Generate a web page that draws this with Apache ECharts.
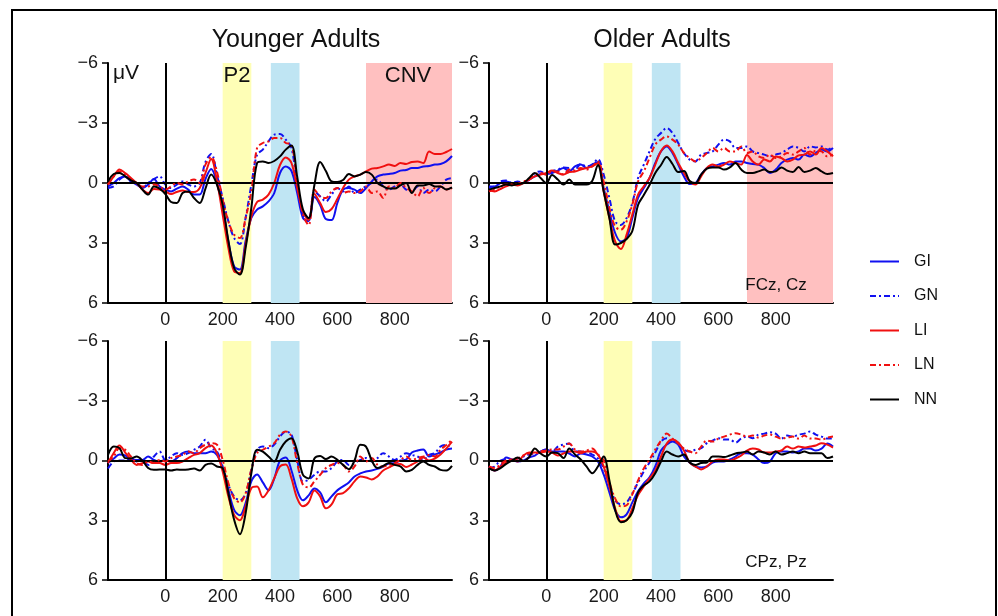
<!DOCTYPE html>
<html><head><meta charset="utf-8">
<script src="https://cdn.jsdelivr.net/npm/echarts@6/dist/echarts.min.js"></script>
<style>html,body{margin:0;padding:0;background:#fff}#c{width:998px;height:616px}</style>
</head><body><div id="c"></div>
<script>
// time points (ms)
const times = [-200,-180,-160,-140,-120,-100,-80,-60,-40,-20,0,20,40,60,80,100,120,140,160,180,200,220,240,260,280,300,320,340,360,380,400,420,440,460,480,500,520,540,560,580,600,620,640,660,680,700,720,740,760,780,800,820,840,860,880,900,920,940,960,980,1000];
const conditions = ['GI','GN','LI','LN','NN'];
const panelTitles = ['Younger Adults','Older Adults'];
const siteLabels = ['FCz, Cz','CPz, Pz'];
const xTicks = [0,200,400,600,800];
const yTicks = [-6,-3,0,3,6];

// Younger adults, FCz/Cz (µV)
const yaFC_GI = [0.17,0,-0.25,-0.33,-0.08,0.08,0.25,0.08,-0.2,0.17, 0.33,0.42,0.28,0.17,0.33,0.58,0.58,-0.2,-0.7,0.0, 1.25,2.92,4.17,4.33,2.9,1.75,1.33,1.17,0.92,0.5, -0.5,-0.83,-0.6,0.5,1.75,1.9,0.7,1.1,1.8,1.85, 1.0,0.33,0.25,0.33,0.5,0.25,-0.08,-0.33,-0.42,-0.45, -0.5,-0.62,-0.65,-0.75,-0.75,-0.83,-0.85,-0.92,-0.95,-1.08, -1.35];
const yaFC_GN = [0.25,0.17,-0.17,-0.33,-0.08,0,0.25,0,-0.2,-0.33, 0.08,0.25,0.08,-0.08,0.08,0.17,0,-1.05,-1.45,-0.4, 0.75,1.92,2.75,3.05,1.75,0.08,-1.42,-1.67,-2.08,-2.42, -2.45,-2.17,-1.75,0.1,1.58,1.8,0.42,0.67,0.92,0.58, 0.25,0.42,0.17,0.5,0.33,0.17,0,-0.17,0.17,0.33, 0.17,0.08,0.33,0.42,0.17,0.5,0.33,0.42,0.17,-0.17, -0.25];
const yaFC_LI = [0.08,-0.33,-0.68,-0.5,-0.25,0,0.33,0.5,0.3,0.33, 0.42,0.55,0.45,0.38,0.45,0.45,0.25,-0.5,-1.2,-0.1, 1.58,3.25,4.42,4.5,3.08,1.67,0.95,0.83,0.58,0.0, -0.9,-1.28,-1.0,0.25,1.42,1.85,0.55,1.0,1.45,1.3, 0.8,0.25,-0.17,-0.33,-0.42,-0.58,-0.72,-0.75,-0.83,-0.92, -0.85,-1.0,-0.95,-1.05,-1.08,-1.0,-1.58,-1.45,-1.45,-1.55, -1.7];
const yaFC_LN = [0.08,-0.33,-0.58,-0.42,-0.17,0,0.17,0.17,0.08,0.17, 0.33,0.17,0,0.08,-0.08,-0.17,0,-0.92,-1.3,-0.58, 0.83,1.92,2.58,2.75,1.75,0.42,-1.75,-2.0,-2.08,-2.25, -2.25,-2.0,-1.92,0,1.58,2.1,0.33,0.67,0.75,0.42, 0.25,0.5,0.42,0.5,0.42,0.17,0.5,0.42,0.75,0.17, 0.25,0,0.25,0.42,0.67,0.25,0.5,0.25,0.17,0.33, 0.25];
const yaFC_NN = [-0.08,-0.45,-0.5,-0.33,-0.13,0,0.33,0.58,0.17,0.28, 0.55,0.95,1.0,0.5,0.42,0.75,1.0,0.28,-0.42,0.08, 1.08,2.9,4.25,4.58,3.25,1.25,-1.0,-1.08,-1.0,-1.1, -1.33,-1.67,-1.88,-0.3,1.33,1.75,0.1,-1.05,-0.6,-0.08, -0.05,-0.15,-0.45,-0.33,-0.42,-0.55,-0.42,0,0.17,0.28, 0.28,0.12,0,0.5,0.12,0.12,0.05,0.17,0.17,0.33, 0.22];

// Older adults, FCz/Cz
const oaFC_GI = [0.17,0.17,0,-0.08,0,0,0,-0.17,-0.33,-0.45, -0.45,-0.5,-0.62,-0.75,-0.58,-0.83,-0.92,-0.75,-0.92,-1.05, 0.25,1.42,2.5,2.92,2.75,1.75,0.75,0.25,-0.25,-1.0, -1.58,-1.83,-1.5,-0.92,-0.33,0.05,0,-0.42,-0.75,-0.83, -0.92,-1.0,-0.92,-1.08,-1.08,-1.0,-0.95,-0.92,-0.75,-0.5, -0.67,-1.0,-1.17,-1.25,-1.17,-1.42,-1.33,-1.5,-1.67,-1.58, -1.75];
const oaFC_GN = [0.25,0.17,-0.08,-0.12,0,-0.08,0,-0.17,-0.5,-0.58, -0.42,-0.58,-0.67,-0.78,-0.75,-0.67,-0.95,-0.83,-0.92,-1.2, -0.42,0.75,1.92,2.1,1.75,1.0,-0.25,-0.92,-1.58,-2.2, -2.5,-2.75,-2.5,-2.0,-1.5,-1.17,-1.08,-1.42,-1.5,-1.58, -1.92,-2.17,-2.08,-1.75,-1.75,-1.83,-1.58,-1.5,-1.42,-1.33, -1.42,-1.5,-1.67,-1.83,-1.75,-1.58,-1.83,-1.78,-1.83,-1.67, -1.83];
const oaFC_LI = [0.33,0.42,0.3,0.17,0.08,0.12,0,-0.17,-0.33,-0.42, -0.5,-0.62,-0.5,-0.42,-0.55,-0.58,-0.67,-0.75,-0.83,-1.0, 0.42,1.75,2.92,3.3,2.58,1.58,0.58,0.17,-0.25,-0.92, -1.6,-1.88,-1.58,-1.0,-0.5,-0.08,0.08,-0.33,-0.75,-0.92, -0.83,-0.92,-1.08,-1.0,-0.92,-1.4,-1.08,-0.92,-1.17,-1.08, -1.33,-1.25,-1.08,-1.17,-1.38,-1.42,-1.58,-1.42,-1.75,-1.58, -1.33];
const oaFC_LN = [0.42,0.33,0.17,0.08,0.08,0.05,-0.08,-0.17,-0.42,-0.5, -0.42,-0.58,-0.58,-0.42,-0.67,-0.62,-0.75,-0.67,-0.83,-1.08, -0.08,1.25,2.17,2.33,1.92,1.08,-0.08,-0.58,-1.25,-1.92, -2.17,-2.33,-2.17,-1.92,-1.5,-1.25,-1.08,-1.25,-1.5,-1.75, -1.58,-1.75,-1.58,-1.58,-1.83,-1.5,-1.58,-1.33,-1.25,-1.42, -1.25,-1.33,-1.5,-1.42,-1.58,-1.75,-1.42,-1.62,-1.58,-1.33, -1.42];
const oaFC_NN = [0.33,0.25,0.17,0.08,0.12,0.05,0,-0.25,-0.5,-0.25, 0,-0.4,-0.17,0.08,-0.17,0.08,0.08,0.08,-0.1,-0.9, 0.42,1.75,3.08,3.0,2.8,2.4,1.1,0.6,0.1,-0.5, -0.9,-1.3,-0.95,-0.55,-0.6,-0.1,0.0,-0.42,-0.72,-0.78, -0.78,-0.67,-0.78,-1.0,-0.67,-0.5,-0.5,-0.58,-0.67,-0.55, -0.58,-0.78,-0.62,-0.55,-0.8,-0.55,-0.62,-0.75,-0.58,-0.45, -0.5];

// Younger adults, CPz/Pz
const yaCP_GI = [0.13,-0.1,-0.3,-0.25,-0.05,-0.03,-0.03,-0.2,-0.03,0.05, -0.03,0.05,-0.12,-0.37,-0.45,-0.37,-0.37,-0.37,-0.45,-0.28, 0.38,1.47,2.48,2.75,2.14,1.05,0.7,1.1,1.5,0.9, 0.0,-0.15,0.5,1.5,2.0,1.75,1.4,1.6,2.1,1.8, 1.5,1.3,1.1,0.8,0.65,0.55,0.5,0.42,0.3,0.15, 0.13,0.0,-0.05,-0.4,-0.5,-0.55,-0.2,-0.3,-0.4,-0.55, -0.6];
const yaCP_GN = [0.4,0.05,0,0,-0.12,0.05,0,0.22,-0.2,-0.45, -0.03,-0.2,-0.37,-0.28,-0.37,-0.54,-0.7,-1.04,-0.62,-0.45, 0.3,1.22,1.81,2.0,1.65,0.47,-0.54,-0.7,-0.62,-0.8, -1.2,-1.45,-1.3,-0.03,1.05,0.97,0.72,0.55,0.55,0.38, 0.05,-0.03,0.22,0.13,-0.03,-0.12,0.05,-0.12,-0.37,-0.2, -0.03,-0.2,-0.37,-0.28,-0.2,-0.03,-0.28,-0.37,-0.7,-0.78, -0.62];
const yaCP_LI = [0.13,-0.37,-0.75,-0.4,-0.05,0.22,0.13,0.05,0.13,0.13, 0.22,0.13,0.13,0.05,-0.12,-0.28,-0.37,-0.62,-0.75,-0.37, 0.55,1.81,2.73,3.0,2.31,1.39,1.31,1.85,1.5,0.89, 0.3,0.2,0.9,1.9,2.3,2.1,1.5,1.8,2.4,2.2, 1.7,1.64,1.4,1.05,0.8,0.85,0.95,0.8,0.5,0.35, 0.2,0.17,0.33,0.2,0.05,-0.15,0,-0.1,-0.3,-0.6, -0.95];
const yaCP_LN = [0.05,-0.2,-0.62,-0.54,-0.2,0.13,0.22,0.05,0.13,-0.03, 0.05,-0.12,-0.2,-0.28,-0.45,-0.37,-0.62,-0.79,-0.87,-0.8, -0.03,1.14,1.89,2.1,1.65,0.47,-0.37,-0.54,-0.7,-0.87, -1.29,-1.46,-1.2,0.13,1.22,1.35,1.05,0.72,0.38,0.22, 0.13,0.22,0.55,0.3,-0.2,0.05,-0.12,0.22,0.3,0.22, 0.13,-0.03,-0.2,-0.03,-0.12,-0.2,-0.28,-0.2,-0.54,-0.78, -1.04];
const yaCP_NN = [-0.28,-0.7,-0.62,-0.12,-0.1,-0.2,0,0.38,0.47,0.45, 0.45,0.5,0.45,0.47,0.45,0.4,0.5,0.22,0.15,0.3, 0.38,1.64,2.98,3.7,2.65,0.64,-0.54,-0.45,-0.2,0.05, -0.54,-0.95,-1.12,-0.45,0.72,0.9,-0.1,-0.23,-0.07,-0.2, -0.03,0.22,0.44,0,-0.79,-0.7,0,0.38,0.27,0.13, 0.22,0.3,0.55,0.47,0.22,0.05,0.22,0.3,0.47,0.5, 0.27];

// Older adults, CPz/Pz
const oaCP_GI = [0.3,0.5,0.3,-0.15,-0.05,0.05,0,-0.15,-0.25,-0.45, -0.55,-0.45,-0.45,-0.45,-0.35,-0.2,-0.35,-0.3,-0.2,0.05, 0.7,1.6,2.5,2.85,2.7,2.1,1.55,1.15,0.85,0.3, -0.5,-0.8,-0.95,-0.8,-0.2,0.1,0.3,0.35,0.3,0.1, 0.05,0.05,-0.05,-0.2,-0.37,-0.37,-0.3,-0.05,0.13,0.05, -0.37,-0.45,-0.45,-0.4,-0.45,-0.6,-0.6,-0.5,-0.6,-0.85, -0.7];
const oaCP_GN = [0.38,0.3,0,-0.05,-0.05,-0.1,-0.2,-0.3,-0.35,-0.45, -0.55,-0.45,-0.7,-0.8,-0.85,-0.45,-0.45,-0.4,-0.3,-0.1, 0.4,1.2,2.0,2.2,2.1,1.65,1.1,0.55,0.1,-0.4, -0.95,-1.12,-0.95,-0.87,-0.55,-0.45,-0.54,-0.62,-0.87,-1.0, -1.12,-1.05,-1.05,-0.9,-1.1,-1.2,-1.12,-1.3,-1.35,-1.42, -1.35,-1.1,-1.25,-1.2,-1.3,-1.35,-1.46,-1.3,-1.2,-1.1, -1.1];
const oaCP_LI = [0.3,0.5,0.3,0.1,-0.05,0.05,-0.25,-0.4,-0.4,-0.4, -0.45,-0.4,-0.25,-0.35,-0.45,-0.45,-0.37,-0.45,-0.45,-0.3, 0.3,1.3,2.4,3.05,3.0,2.4,1.73,1.3,0.9,0.5, -0.2,-0.85,-1.05,-0.9,-0.5,0.1,0.3,0.45,0.3,0.05, -0.05,-0.05,0,-0.1,-0.25,-0.5,-0.6,-0.55,-0.4,-0.4, -0.45,-0.5,-0.7,-0.6,-0.7,-0.65,-0.7,-0.75,-0.87,-0.8, -0.65];
const oaCP_LN = [0.3,0.38,0.2,0,-0.05,-0.1,-0.25,-0.35,-0.35,-0.45, -0.5,-0.55,-0.55,-0.7,-0.85,-0.55,-0.45,-0.5,-0.6,-0.3, 0.0,1.1,1.9,2.3,2.25,1.7,1.0,0.4,-0.05,-0.55, -1.0,-1.35,-1.1,-0.85,-0.6,-0.45,-0.37,-0.7,-1.0,-0.95, -1.1,-1.2,-1.3,-1.37,-1.3,-1.2,-1.25,-1.15,-1.25,-1.3, -1.2,-1.1,-1.15,-1.2,-1.1,-1.25,-1.1,-1.1,-1.05,-1.15, -1.2];
const oaCP_NN = [0.38,0.5,0.38,0.17,0,-0.15,0.03,-0.17,-0.6,-0.35, -0.2,-0.4,-0.37,-0.12,-0.6,-0.3,-0.05,0.3,0.64,0.3, -0.2,1.0,2.48,3.1,3.0,2.6,1.6,1.25,1.05,0.64, 0.05,-0.45,-0.3,-0.2,-0.3,0.1,0.22,0.13,0.1,-0.2, -0.2,-0.17,-0.25,-0.35,-0.4,-0.45,-0.3,-0.45,-0.4,-0.3, -0.45,-0.3,-0.37,-0.45,-0.37,-0.45,-0.37,-0.37,-0.37,-0.12, -0.2];

// shaded windows (ms)
const p2Window = [200,300];
const blueWindow = [368,468];
const cnvWindow = [700,1000];

const panels = [
  {grid:{left:108,top:63,width:344,height:240}, data:[yaFC_GI,yaFC_GN,yaFC_LI,yaFC_LN,yaFC_NN], cnv:true},
  {grid:{left:489,top:63,width:344,height:240}, data:[oaFC_GI,oaFC_GN,oaFC_LI,oaFC_LN,oaFC_NN], cnv:true},
  {grid:{left:108,top:341,width:344,height:239}, data:[yaCP_GI,yaCP_GN,yaCP_LI,yaCP_LN,yaCP_NN], cnv:false},
  {grid:{left:489,top:341,width:344,height:239}, data:[oaCP_GI,oaCP_GN,oaCP_LI,oaCP_LN,oaCP_NN], cnv:false}
];
const styles = {
  GI:{color:'#1010f0', type:'solid'},
  GN:{color:'#1010f0', type:[6,3,2,3]},
  LI:{color:'#f01010', type:'solid'},
  LN:{color:'#f01010', type:[6,3,2,3]},
  NN:{color:'#000000', type:'solid'}
};
const FONT = "'Liberation Sans', Arial, sans-serif";

const grids=[], xAxes=[], yAxes=[], series=[];
panels.forEach((p,i)=>{
  grids.push(Object.assign({containLabel:false}, p.grid));
  xAxes.push({type:'value', gridIndex:i, min:-200, max:1000, interval:200,
    axisLine:{onZero:false, lineStyle:{color:'#000', width:2}},
    axisTick:{show:false}, splitLine:{show:false},
    axisLabel:{fontSize:18, color:'#1a1a1a', fontFamily:FONT, margin:8,
      formatter:v=> xTicks.indexOf(v)>=0 ? String(v) : ''}});
  yAxes.push({type:'value', gridIndex:i, min:-6, max:6, interval:3, inverse:true,
    axisLine:{show:true, onZero:false, lineStyle:{color:'#000', width:2}},
    axisTick:{show:true, length:6, lineStyle:{color:'#000', width:1.5}},
    splitLine:{show:false},
    axisLabel:{fontSize:18, color:'#1a1a1a', fontFamily:FONT, margin:10,
      formatter:v=> yTicks.indexOf(v)>=0 ? (v<0 ? '\u2212'+(-v) : String(v)) : ''}});
  const areas = [
    [{xAxis:p2Window[0], itemStyle:{color:'#fefeb6'}},{xAxis:p2Window[1]}],
    [{xAxis:blueWindow[0], itemStyle:{color:'#bfe5f3'}},{xAxis:blueWindow[1]}]
  ];
  if(p.cnv) areas.push([{xAxis:cnvWindow[0], itemStyle:{color:'#ffc0c0'}},{xAxis:cnvWindow[1]}]);
  series.push({type:'line', xAxisIndex:i, yAxisIndex:i, data:[], z:0, silent:true,
    markArea:{silent:true, data:areas}});
  series.push({type:'line', xAxisIndex:i, yAxisIndex:i, data:[], z:1, silent:true,
    markLine:{silent:true, symbol:'none', animation:false, label:{show:false},
      lineStyle:{color:'#000', width:2, type:'solid'},
      data:[{xAxis:0},{yAxis:0}]}});
  conditions.forEach((c,k)=>{
    const arr = p.data[k];
    series.push({type:'line', name:c, xAxisIndex:i, yAxisIndex:i, z:2+k,
      data: times.map((t,j)=>[t, arr[j]]),
      symbol:'none', showSymbol:false, smooth:0.35, animation:false,
      lineStyle:{color:styles[c].color, width:2, type:styles[c].type},
      itemStyle:{color:styles[c].color}});
  });
});

const chart = echarts.init(document.getElementById('c'), null, {renderer:'canvas'});
chart.setOption({
  animation:false,
  backgroundColor:'#fff',
  grid:grids, xAxis:xAxes, yAxis:yAxes, series:series,
  legend:{data:conditions, orient:'vertical', left:869, top:253.5, padding:0, itemWidth:29, itemHeight:16, itemGap:18.5,
    itemStyle:{opacity:0, borderWidth:0},
    textStyle:{fontSize:16, color:'#111', fontFamily:FONT, padding:[0,0,0,10]}},
  graphic:[
    {type:'rect', shape:{x:12, y:10, width:984, height:630}, style:{fill:'none', stroke:'#000', lineWidth:2}, silent:true},
    {type:'text', style:{text:panelTitles[0], x:296, y:40, fontSize:25, fontFamily:FONT, fill:'#111', textAlign:'center', textVerticalAlign:'middle'}},
    {type:'text', style:{text:panelTitles[1], x:662, y:40, fontSize:25, fontFamily:FONT, fill:'#111', textAlign:'center', textVerticalAlign:'middle'}},
    {type:'text', style:{text:'\u03bcV', x:113, y:73, fontSize:21, fontFamily:FONT, fill:'#111', textAlign:'left', textVerticalAlign:'middle'}, z:100},
    {type:'text', style:{text:'P2', x:237, y:76, fontSize:22, fontFamily:FONT, fill:'#111', textAlign:'center', textVerticalAlign:'middle'}, z:100},
    {type:'text', style:{text:'CNV', x:408, y:76, fontSize:22, fontFamily:FONT, fill:'#111', textAlign:'center', textVerticalAlign:'middle'}, z:100},
    {type:'text', style:{text:siteLabels[0], x:776, y:285, fontSize:17, fontFamily:FONT, fill:'#111', textAlign:'center', textVerticalAlign:'middle'}, z:100},
    {type:'text', style:{text:siteLabels[1], x:776, y:562, fontSize:17, fontFamily:FONT, fill:'#111', textAlign:'center', textVerticalAlign:'middle'}, z:100}
  ]
});
</script></body></html>
